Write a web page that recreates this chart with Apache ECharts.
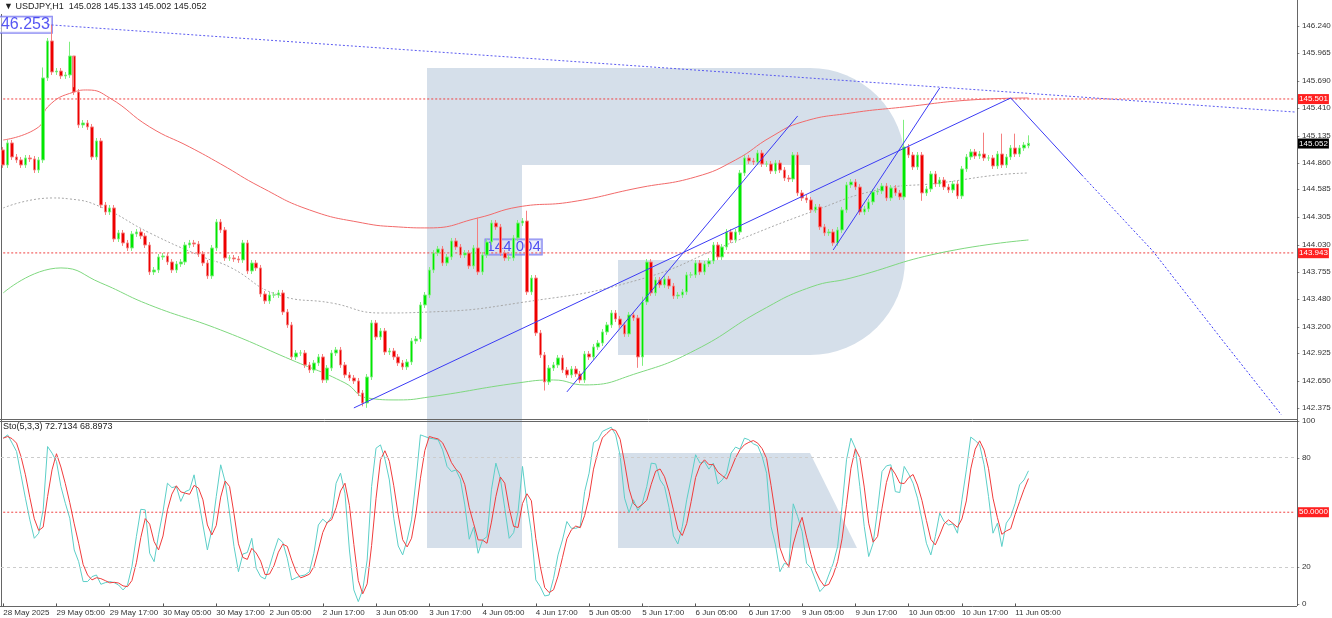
<!DOCTYPE html>
<html><head><meta charset="utf-8">
<script src="https://cdn.jsdelivr.net/npm/echarts@6/dist/echarts.min.js"></script>
<style>html,body{margin:0;padding:0;background:#fff}#c{width:1332px;height:618px}</style>
</head><body><div id="c"></div>
<script>
// ---- data ----
const closes = [144.833,145.056,144.914,144.884,144.833,144.904,144.894,144.782,144.884,145.714,
146.088,145.774,145.784,145.734,145.744,145.936,145.572,145.238,145.258,145.218,
144.914,145.076,144.428,144.357,144.398,144.084,144.145,144.044,143.993,144.135,
144.155,144.114,144.023,143.750,143.770,143.902,143.912,143.851,143.770,143.831,
143.851,144.023,144.044,144.033,143.932,143.841,143.710,143.993,144.256,144.175,
143.892,143.892,143.882,143.872,144.044,143.760,143.841,143.791,143.527,143.457,
143.517,143.517,143.538,143.345,143.214,142.890,142.930,142.930,142.809,142.758,
142.829,142.890,142.657,142.778,142.930,142.961,142.809,142.708,142.677,142.647,
142.525,142.424,142.687,143.234,143.092,143.153,142.940,142.951,142.890,142.829,
142.789,142.839,143.052,143.072,143.416,143.517,143.770,143.942,143.983,143.841,
143.902,144.064,144.003,143.922,143.942,143.811,143.993,143.750,143.922,144.054,
144.246,144.206,143.942,143.892,143.892,144.094,144.246,144.266,143.548,143.689,
143.133,142.910,142.637,142.778,142.809,142.880,142.758,142.708,142.768,142.718,
142.657,142.920,142.890,142.991,143.031,143.143,143.214,143.335,143.274,143.214,
143.123,143.315,143.285,142.890,143.446,143.851,143.538,143.669,143.619,143.679,
143.608,143.507,143.517,143.548,143.720,143.720,143.841,143.750,143.831,143.861,
144.023,143.902,144.003,144.155,144.074,144.155,144.752,144.904,144.874,144.863,
144.954,144.843,144.843,144.772,144.853,144.782,144.701,144.691,144.934,144.550,
144.499,144.479,144.378,144.408,144.206,144.145,144.155,144.044,144.175,144.378,
144.631,144.661,144.610,144.357,144.388,144.459,144.560,144.570,144.620,144.499,
144.600,144.550,144.509,145.015,144.934,144.813,144.934,144.550,144.590,144.742,
144.641,144.681,144.610,144.580,144.641,144.519,144.793,144.914,144.965,144.924,
144.944,144.904,144.904,144.823,144.944,144.833,144.914,145.005,144.944,145.005,
145.035,145.052];
const firstOpen = 144.985, lastOpen = 145.028;
const highOverride = {9:145.82,11:146.253,15:146.08,16:145.62,107:144.30,118:144.37,144:143.50,203:145.29,221:145.16,225:145.15,228:145.15,231:145.133};
const lowOverride = {81:142.39,82:142.375,122:142.55,143:142.78,144:142.80,207:144.47,231:145.002};

const redIdx = [0,8,10,16,19,24,33,42,49,58,69,81,89,96,107,116,128,143,156,165,173,180,191,203,218,231];
const redVal = [145.086,145.218,145.420,145.572,145.592,145.511,145.218,145.015,144.843,144.610,144.378,144.246,144.206,144.196,144.297,144.408,144.459,144.600,144.712,144.884,145.117,145.268,145.359,145.420,145.491,145.511];
const grayIdx = [0,11,15,22,33,45,51,62,74,85,96,116,143,164,182,197,211,224,231];
const grayVal = [144.398,144.499,144.489,144.408,144.145,143.902,143.801,143.517,143.436,143.335,143.345,143.436,143.669,144.044,144.357,144.580,144.651,144.732,144.752];
const greenIdx = [0,13,22,33,49,65,77,82,89,96,116,124,131,143,156,171,182,191,211,231];
const greenVal = [143.538,143.791,143.639,143.416,143.163,142.859,142.627,142.475,142.455,142.485,142.627,142.657,142.607,142.728,142.961,143.366,143.598,143.689,143.942,144.074];

const stochK = [90.6,92.4,87.9,83.3,70.5,57.7,45.8,35.7,38.5,51.3,86.0,82.4,77.8,64.1,54.9,46.7,29.3,22.9,12.0,12.0,
14.7,15.6,10.5,11.4,12.0,11.4,10.1,7.4,10.1,20.2,36.6,51.6,51.3,27.5,22.9,37.6,50.4,65.9,63.5,64.1,
55.9,61.3,62.3,70.5,56.8,43.0,29.3,40.3,58.6,76.0,66.8,49.5,31.2,17.4,27.1,27.9,35.7,19.3,14.7,13.4,
20.2,28.4,35.7,33.4,24.8,12.9,14.1,15.1,15.6,17.4,27.5,43.0,46.2,44.0,47.6,65.9,71.4,60.4,29.3,7.4,
1.0,7.4,23.8,64.1,85.1,86.9,79.1,67.7,46.7,31.5,26.6,34.8,45.8,67.7,92.4,91.5,90.6,90.2,89.7,84.2,
75.1,72.3,73.2,68.1,54.0,35.2,41.8,27.5,34.8,36.6,62.3,76.9,68.7,52.2,35.7,38.8,50.4,75.1,54.9,38.8,
12.9,9.2,4.1,4.6,13.8,26.6,34.8,44.9,41.2,41.2,42.1,61.3,71.4,88.2,89.7,94.3,95.5,96.6,92.4,80.9,
57.7,49.8,56.8,50.9,54.9,64.1,76.9,76.5,67.7,64.1,52.7,37.0,32.6,42.1,56.8,68.7,81.5,76.9,77.8,73.6,
76.9,65.5,67.7,71.4,82.4,85.7,84.6,90.6,89.7,87.5,86.4,80.5,71.4,42.1,32.1,17.4,22.0,21.1,54.6,47.6,
39.4,22.0,19.3,12.9,6.5,9.2,15.6,22.0,31.2,53.1,78.7,90.6,85.1,64.1,42.1,25.7,33.0,51.3,72.3,75.4,
76.0,61.3,60.8,75.1,71.0,65.9,57.7,45.8,33.0,26.6,36.6,49.5,44.9,43.0,43.6,38.5,56.8,73.2,91.2,89.3,
86.9,76.0,58.6,38.5,44.0,31.2,44.0,47.6,54.9,65.0,67.7,72.7];

const timeLabels = ['28 May 2025','29 May 05:00','29 May 17:00','30 May 05:00','30 May 17:00','2 Jun 05:00','2 Jun 17:00','3 Jun 05:00','3 Jun 17:00','4 Jun 05:00','4 Jun 17:00','5 Jun 05:00','5 Jun 17:00','6 Jun 05:00','6 Jun 17:00','9 Jun 05:00','9 Jun 17:00','10 Jun 05:00','10 Jun 17:00','11 Jun 05:00'];
const priceTicks = ['146.240','145.965','145.690','145.410','145.135','144.860','144.585','144.305','144.030','143.755','143.480','143.200','142.925','142.650','142.375'];
const stochTicks = [100,80,20,0];

const topLine = [[10,146.253],[291,145.369]];
const trend1 = [[79,142.374],[227,145.511]];
const trend2 = [[127,142.536],[179,145.329]];
const trend3 = [[187,143.973],[199,144.790],[211,145.612]];
const fc1 = [[227,145.511],[243,144.732]];
const fc2 = [[243,144.732],[259,143.963],[275,143.042],[288,142.303]];
const levelHigh = 145.501, levelLow = 143.943, lastPrice = 145.052;

// ---- build ----
const NCAT = 292;
const cats = Array.from({length:NCAT},(_, i)=>i);
const candles = closes.map((c,i)=>{
  const o = i===0?firstOpen:(i===closes.length-1?lastOpen:closes[i-1]);
  const hi = highOverride[i]!==undefined?highOverride[i]:Math.max(o,c)+0.03;
  const lo = lowOverride[i]!==undefined?lowOverride[i]:Math.min(o,c)-0.03;
  return [o,c,lo,hi];
});
const pairs=(ix,v)=>ix.map((x,k)=>[x,v[k]]);
const stochD = stochK.map((v,i)=>{const s=stochK.slice(Math.max(0,i-2),i+1);return +(s.reduce((a,b)=>a+b,0)/s.length).toFixed(2);});
const FONT='Liberation Sans';
const blue='#3b3bf5';
const sq={symbol:'rect',symbolSize:4,itemStyle:{color:'#fff',borderColor:blue,borderWidth:1}};
const hidden={color:'rgba(0,0,0,0)',width:0};
const tickLab=(t)=>({formatter:'- '+t,position:'end',distance:0,fontSize:8,color:'#333',fontFamily:FONT});
const boxLab=(t,bg)=>({formatter:t,position:'end',distance:1,fontSize:8,color:'#fff',backgroundColor:bg,padding:[1,1],fontFamily:FONT});
const hLine=(v)=>[[0,v],[NCAT-1,v]];
const redDot={color:'#f04040',type:[2,2],width:1};

const chart = echarts.init(document.getElementById('c'),null,{renderer:'canvas'});
const G='#d5dfea';
chart.setOption({
  animation:false,
  textStyle:{fontFamily:FONT},
  grid:[{left:1,right:35,top:14,height:405},{left:1,right:35,top:421,height:185}],
  xAxis:[
    {type:'category',data:cats,gridIndex:0,boundaryGap:true,axisLine:{show:false},axisTick:{show:false},axisLabel:{show:false},splitLine:{show:false}},
    {type:'category',data:cats,gridIndex:1,boundaryGap:true,axisLine:{show:false},
     axisTick:{show:true,alignWithLabel:true,length:3,lineStyle:{color:'#555'},interval:(i)=>i%12===0&&i<=228},
     axisLabel:{interval:(i)=>i%12===0&&i<=228,showMinLabel:true,hideOverlap:false,formatter:(v,i)=>timeLabels[i/12]||'',align:'left',margin:3,fontSize:8,color:'#333'},splitLine:{show:false}}
  ],
  yAxis:[
    {type:'value',gridIndex:0,min:142.262,max:146.361,position:'right',axisLine:{show:false},axisTick:{show:false},axisLabel:{show:false},splitLine:{show:false}},
    {type:'value',gridIndex:1,min:-1.4,max:100,position:'right',axisLine:{show:false},axisTick:{show:false},axisLabel:{show:false},splitLine:{show:false}}
  ],
  graphic:[
    {type:'group',z:-10,silent:true,children:[
      {type:'rect',shape:{x:427,y:68,width:95,height:480},style:{fill:G}},
      {type:'rect',shape:{x:427,y:68,width:478,height:287,r:[0,95,95,0]},style:{fill:G}},
      {type:'rect',shape:{x:522,y:165,width:288,height:95},style:{fill:'#fff'}},
      {type:'rect',shape:{x:522,y:260,width:96,height:95},style:{fill:'#fff'}},
      {type:'polygon',shape:{points:[[618,453],[810,453],[857,548],[618,548]]},style:{fill:G}}
    ]},
    {type:'group',z:100,silent:true,children:[
      {type:'line',shape:{x1:1.5,y1:14,x2:1.5,y2:606},style:{stroke:'#666',lineWidth:1}},
      {type:'line',shape:{x1:1297.5,y1:0,x2:1297.5,y2:606},style:{stroke:'#666',lineWidth:1}},
      {type:'line',shape:{x1:0,y1:419.5,x2:1297,y2:419.5},style:{stroke:'#666',lineWidth:1}},
      {type:'line',shape:{x1:0,y1:421.5,x2:1297,y2:421.5},style:{stroke:'#666',lineWidth:1}},
      {type:'line',shape:{x1:0,y1:606.5,x2:1297,y2:606.5},style:{stroke:'#666',lineWidth:1}},
      {type:'text',left:4,top:2,style:{text:'▼ USDJPY,H1  145.028 145.133 145.002 145.052',fontSize:9,fill:'#222',fontFamily:FONT}},
      {type:'text',left:3,top:422,style:{text:'Sto(5,3,3) 72.7134 68.8973',fontSize:9,fill:'#222',fontFamily:FONT}}
    ]}
  ],
  series:[
    {type:'scatter',xAxisIndex:0,yAxisIndex:0,z:1,symbolSize:0,data:[[4,146.253]],
     label:{show:true,formatter:'146.253',fontSize:16,color:'#2a2af0',borderColor:'#6b6bf0',borderWidth:1,padding:[0,2],backgroundColor:'rgba(255,255,255,0.6)'}},
    {type:'scatter',xAxisIndex:0,yAxisIndex:0,z:1,symbolSize:0,data:[[115,144.004]],
     label:{show:true,formatter:'144.004',fontSize:15,color:'#2a2af0',borderColor:'#6b6bf0',borderWidth:1,padding:[0,1],backgroundColor:'rgba(220,228,245,0.6)'}},
    {type:'line',xAxisIndex:0,yAxisIndex:0,data:hLine(levelHigh),showSymbol:false,lineStyle:redDot,z:2,
     markLine:{silent:true,symbol:'none',lineStyle:hidden,data:[{yAxis:levelHigh,lineStyle:hidden,label:boxLab('145.501','#ff2020')}]}},
    {type:'line',xAxisIndex:0,yAxisIndex:0,data:hLine(levelLow),showSymbol:false,lineStyle:redDot,z:2,
     markLine:{silent:true,symbol:'none',lineStyle:hidden,data:[{yAxis:levelLow,lineStyle:hidden,label:boxLab('143.943','#ff2020')}]}},
    {type:'line',xAxisIndex:0,yAxisIndex:0,data:pairs(redIdx,redVal),smooth:0.5,showSymbol:false,lineStyle:{color:'#f26a6a',width:1},z:2,
     markLine:{silent:true,symbol:'none',data:priceTicks.map(t=>({yAxis:+t,lineStyle:hidden,label:tickLab(t)}))}},
    {type:'line',xAxisIndex:0,yAxisIndex:0,data:pairs(grayIdx,grayVal),smooth:0.5,showSymbol:false,lineStyle:{color:'#a8a8a8',width:1,type:[2,2]},z:2},
    {type:'line',xAxisIndex:0,yAxisIndex:0,data:pairs(greenIdx,greenVal),smooth:0.5,showSymbol:false,lineStyle:{color:'#7fd87f',width:1},z:2,
     markLine:{silent:true,symbol:'none',data:[{yAxis:lastPrice,lineStyle:hidden,label:boxLab('145.052','#000')}]}},
    {type:'candlestick',xAxisIndex:0,yAxisIndex:0,data:candles,barWidth:3,z:3,
     itemStyle:{color:'#00e800',color0:'#ee0000',borderColor:'#7fee7f',borderColor0:'#f58080',borderWidth:1}},
    {type:'line',xAxisIndex:0,yAxisIndex:0,data:topLine,showSymbol:false,lineStyle:{color:'#5a5af0',width:1,type:[2,2]},z:4},
    {type:'line',xAxisIndex:0,yAxisIndex:0,data:trend1,...sq,lineStyle:{color:blue,width:1},z:4},
    {type:'line',xAxisIndex:0,yAxisIndex:0,data:trend2,...sq,lineStyle:{color:blue,width:1},z:4},
    {type:'line',xAxisIndex:0,yAxisIndex:0,data:trend3,...sq,lineStyle:{color:blue,width:1},z:4},
    {type:'line',xAxisIndex:0,yAxisIndex:0,data:fc1,...sq,lineStyle:{color:blue,width:1},z:4},
    {type:'line',xAxisIndex:0,yAxisIndex:0,data:fc2,...sq,lineStyle:{color:blue,width:1,type:[2,2]},z:4},
    {type:'line',xAxisIndex:1,yAxisIndex:1,data:hLine(50),showSymbol:false,lineStyle:redDot,z:2,
     markLine:{silent:true,symbol:'none',data:[{yAxis:50,lineStyle:hidden,label:boxLab('50.0000','#ff2020')}]}},
    {type:'line',xAxisIndex:1,yAxisIndex:1,data:stochK,showSymbol:false,lineStyle:{color:'#5ccfc8',width:1},z:3,
     markLine:{silent:true,symbol:'none',data:stochTicks.map(t=>({yAxis:t,lineStyle:(t===80||t===20)?{color:'#cccccc',type:[3,3],width:1}:hidden,label:tickLab(t)}))}},
    {type:'line',xAxisIndex:1,yAxisIndex:1,data:stochD,showSymbol:false,lineStyle:{color:'#f03c3c',width:1},z:4}
  ]
});
</script></body></html>
